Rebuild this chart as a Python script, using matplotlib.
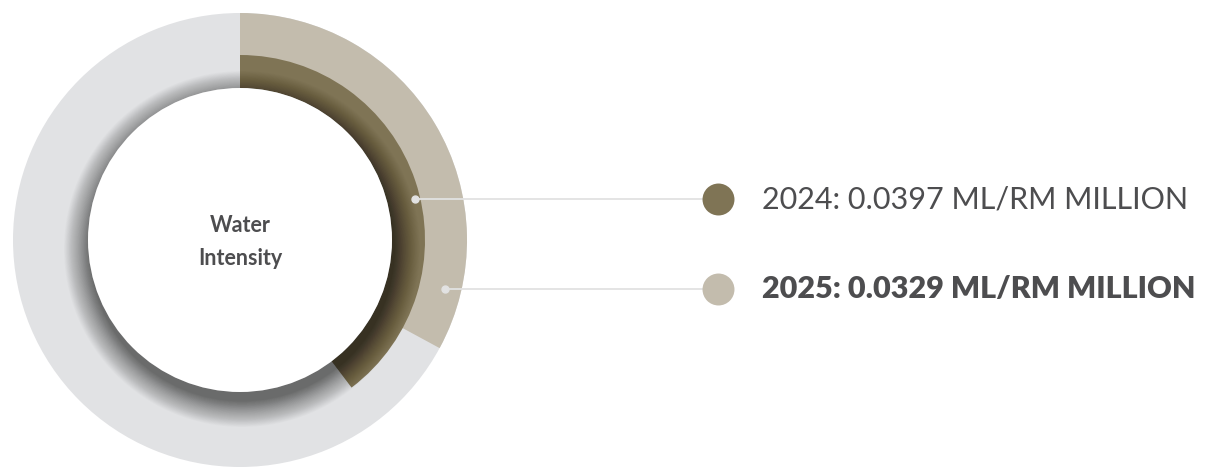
import numpy as np
import matplotlib.pyplot as plt
from matplotlib.patches import Circle

# data
years = ["2024", "2025"]
values = [0.0397, 0.0329]          # ML/RM million
scale_max = 0.1                     # full circle
unit = "ML/RM MILLION"
center_label = "Water\nIntensity"

grey = "#e1e2e4"
dark = "#7f7455"
beige = "#c3bcad"
text_col = "#4d4d4f"
line_col = "#e2e2e2"

W, H = 1231, 470
fig = plt.figure(figsize=(W / 100, H / 100), dpi=100)
ax = fig.add_axes([0, 0, 1, 1])

cx, cy = 240, 230
r_outer, r_mid, r_inner = 227, 185, 152

# background ring
ax.pie([1], radius=r_outer, center=(cx, cy), colors=[grey],
       wedgeprops=dict(width=r_outer - r_inner, linewidth=0), frame=True)
# 2025 outer arc
ax.pie([values[1], scale_max - values[1]], radius=r_outer, center=(cx, cy),
       startangle=90, counterclock=False, colors=[beige, "none"],
       wedgeprops=dict(width=r_outer - r_inner, linewidth=0), frame=True)
# 2024 inner arc
ax.pie([values[0], scale_max - values[0]], radius=r_mid, center=(cx, cy),
       startangle=90, counterclock=False, colors=[dark, "none"],
       wedgeprops=dict(width=r_mid - r_inner, linewidth=0), frame=True)

# soft shadow under the white disc (stronger at the bottom)
n = 40
for k in range(n):
    rr = r_inner + 26 * (1 - k / n) ** 1.3
    ax.add_patch(Circle((cx + 2, cy - 9), rr, color="black", alpha=0.016,
                        linewidth=0, zorder=3))
ax.add_patch(Circle((cx, cy), r_inner, color="white", linewidth=0, zorder=4))

ax.set_xlim(0, W)
ax.set_ylim(0, H)
ax.set_aspect("equal")
ax.axis("off")

ax.text(cx, cy - 2, center_label, ha="center", va="center", fontsize=15.5,
        fontweight="bold", color=text_col, family="Lato", linespacing=1.75,
        zorder=5)

# leader lines and legend
dot_x = 718
leg_y = [H - 199, H - 289]
start_x = [415, 445]
colors = [dark, beige]
weights = ["normal", "heavy"]
for yr, v, y, sx, c, w in zip(years, values, leg_y, start_x, colors, weights):
    ax.plot([sx, dot_x], [y, y], color=line_col, lw=1.3, zorder=6)
    ax.plot([sx], [y], "o", color=line_col, ms=5, zorder=6)
    ax.plot([dot_x], [y], "o", color=c, ms=23, mec="none", zorder=7)
    ax.text(762, y, f"{yr}: {v:.4f} {unit}", ha="left", va="center",
            fontsize=22, fontweight=w, color=text_col, family="Lato")

fig.savefig("out.png", dpi=100)
